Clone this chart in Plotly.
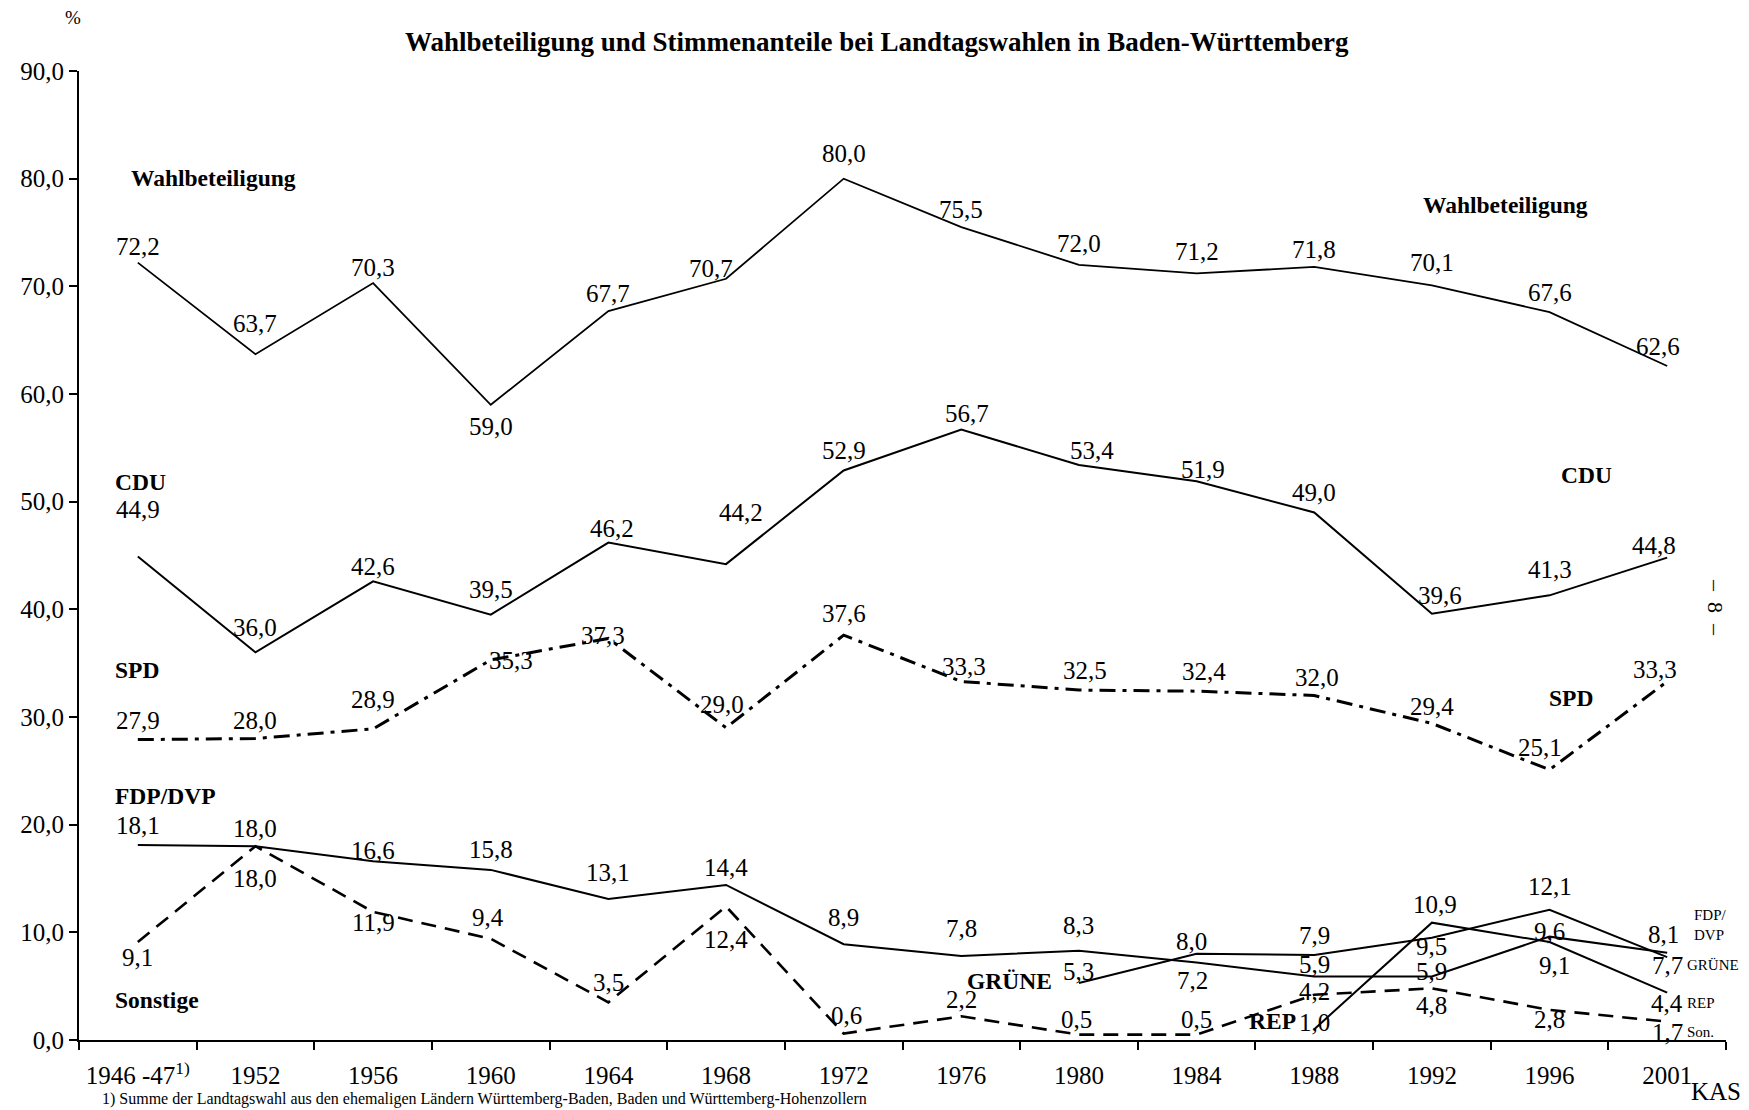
import plotly.graph_objects as go

# election years (category axis)
years = ["1946 -47", "1952", "1956", "1960", "1964", "1968", "1972",
         "1976", "1980", "1984", "1988", "1992", "1996", "2001"]
year_labels = ["1946 -47<sup>1)</sup>"] + years[1:]

wahlbeteiligung = [72.2, 63.7, 70.3, 59.0, 67.7, 70.7, 80.0, 75.5, 72.0, 71.2, 71.8, 70.1, 67.6, 62.6]
cdu = [44.9, 36.0, 42.6, 39.5, 46.2, 44.2, 52.9, 56.7, 53.4, 51.9, 49.0, 39.6, 41.3, 44.8]
spd = [27.9, 28.0, 28.9, 35.3, 37.3, 29.0, 37.6, 33.3, 32.5, 32.4, 32.0, 29.4, 25.1, 33.3]
fdp = [18.1, 18.0, 16.6, 15.8, 13.1, 14.4, 8.9, 7.8, 8.3, 7.2, 5.9, 5.9, 9.6, 8.1]
gruene = [None] * 8 + [5.3, 8.0, 7.9, 9.5, 12.1, 7.7]
rep = [None] * 10 + [1.0, 10.9, 9.1, 4.4]
sonstige = [9.1, 18.0, 11.9, 9.4, 3.5, 12.4, 0.6, 2.2, 0.5, 0.5, 4.2, 4.8, 2.8, 1.7]

FONT = "Liberation Serif"

# value label offsets in px: dy > 0 above the point, dy < 0 below
offsets = {
    "wahl": ([16, 31, 16, -22, 18, 10, 25, 18, 21, 22, 17, 23, 20, 20],
             [0, 0, 0, 0, 0, -15, 0, 0, 0, 0, 0, 0, 0, -9]),
    "cdu": ([47, 25, 15, 25, 14, 52, 20, 16, 15, 12, 20, 18, 26, 12],
            [0, 0, 0, 0, 4, 15, 0, 6, 13, 6, 0, 8, 0, -13]),
    "spd": ([19, 18, 29, -1, 3, 23, 22, 15, 20, 20, 18, 17, 22, 12],
            [0, 0, 0, 20, -5, -4, 0, 3, 6, 7, 3, 0, -10, -12]),
    "fdp": ([20, 18, 11, 20, 26, 17, 27, 28, 25, -18, 12, 5, 5, 18],
            [0, 0, 0, 0, 0, 0, 0, 0, 0, -4, 0, 0, 0, -4]),
    "gruene": ([0] * 8 + [11, 12, 19, -9, 23, -8],
               [0] * 8 + [0, -5, 0, 0, 0, 0]),
    "rep": ([0] * 10 + [7, 18, -23, -11],
            [0] * 10 + [0, 3, 5, 0]),
    "son": ([-15, -32, -11, 21, 20, -33, 18, 17, 15, 15, 3, -17, -10, -11],
            [0, 0, 0, -3, 0, 0, 3, 0, -2, 0, 0, 0, 0, 0]),
}


def fmt(v):
    return f"{v:.1f}".replace(".", ",")


def px(sx, sy):
    # page pixel -> paper coords (plot area 75..1726 x 71..1040 on the page)
    return (sx - 75) / 1651, (1040 - sy) / 969


fig = go.Figure()


def add_series(values, key, dash="solid", width=2):
    fig.add_trace(go.Scatter(
        x=years, y=values, mode="lines",
        line=dict(color="black", width=width, dash=dash),
        connectgaps=False, showlegend=False, hoverinfo="x+y",
    ))
    dys, dxs = offsets[key]
    for i, (v, dy, dx) in enumerate(zip(values, dys, dxs)):
        if v is None:
            continue
        # category index, since year strings would be read as numbers
        fig.add_annotation(x=i, y=v, text=fmt(v), showarrow=False,
                           xanchor="center", yanchor="middle", xshift=dx, yshift=dy,
                           font=dict(family=FONT, size=25, color="black"))


add_series(wahlbeteiligung, "wahl", width=1.8)
add_series(cdu, "cdu", width=2)
add_series(spd, "spd", dash="16px,7px,4px,7px", width=3)
add_series(fdp, "fdp", width=2)
add_series(gruene, "gruene", width=2)
add_series(rep, "rep", width=2)
add_series(sonstige, "son", dash="15px,9px", width=2.6)

# series names inside the plot (page pixels: left edge, vertical centre)
bold = dict(family=FONT, size=23.5, color="black")
names = [
    ("<b>Wahlbeteiligung</b>", 125, 178),
    ("<b>Wahlbeteiligung</b>", 1420, 205),
    ("<b>CDU</b>", 109, 482),
    ("<b>CDU</b>", 1559, 475),
    ("<b>SPD</b>", 109, 670),
    ("<b>SPD</b>", 1547, 698),
    ("<b>FDP/DVP</b>", 109, 796),
    ("<b>Sonstige</b>", 109, 1000),
    ("<b>GRÜNE</b>", 963, 981),
    ("<b>REP</b>", 1246, 1021),
]
for txt, sx, sy in names:
    x, y = px(sx, sy)
    fig.add_annotation(text=txt, x=x, y=y, xref="paper", yref="paper",
                       xanchor="left", yanchor="middle", showarrow=False, font=bold)

small = dict(family=FONT, size=15, color="black")
for txt, sx, sy in [("FDP/<br>DVP", 1692, 925), ("GRÜNE", 1685, 965),
                    ("REP", 1685, 1003), ("Son.", 1685, 1032)]:
    x, y = px(sx, sy)
    fig.add_annotation(text=txt, x=x, y=y, xref="paper", yref="paper", align="left",
                       xanchor="left", yanchor="middle", showarrow=False, font=small)

extras = [
    ("<b>Wahlbeteiligung und Stimmenanteile bei Landtagswahlen in Baden-Württemberg</b>",
     875, 42, 27, "center", 0),
    ("%", 69, 18, 19, "center", 0),
    ("–  8  –", 1716, 607, 22, "center", 90),
    ("KAS", 1716, 1091, 25, "center", 0),
    ("1) Summe der Landtagswahl aus den ehemaligen Ländern Württemberg-Baden, Baden und Württemberg-Hohenzollern",
     96, 1099, 16, "left", 0),
]
for txt, sx, sy, size, anchor, angle in extras:
    x, y = px(sx, sy)
    fig.add_annotation(text=txt, x=x, y=y, xref="paper", yref="paper", showarrow=False,
                       xanchor=anchor, yanchor="middle", textangle=angle,
                       font=dict(family=FONT, size=size, color="black"))

fig.update_xaxes(
    type="category", categoryorder="array", categoryarray=years,
    tickvals=years, ticktext=year_labels, range=[-0.5, 13.5],
    showline=True, linecolor="black", linewidth=2, mirror=False,
    ticks="outside", tickson="boundaries", ticklen=8, tickwidth=2, tickcolor="black",
    tickfont=dict(family=FONT, size=25, color="black"), ticklabelstandoff=12,
    showgrid=False, zeroline=False,
)
fig.update_yaxes(
    range=[0, 90], dtick=10, tick0=0, tickformat=".1f",
    showline=True, linecolor="black", linewidth=2,
    ticks="outside", ticklen=8, tickwidth=2, tickcolor="black",
    tickfont=dict(family=FONT, size=25, color="black"),
    showgrid=False, zeroline=False,
)
# the page body adds an 8px margin, so the figure is drawn 8px in from the corner
fig.update_layout(
    width=1741, height=1102, autosize=False,
    margin=dict(l=67, r=23, t=63, b=70),
    paper_bgcolor="white", plot_bgcolor="white",
    separators=", ", font=dict(family=FONT, color="black"),
)

fig.write_html("out.html")
